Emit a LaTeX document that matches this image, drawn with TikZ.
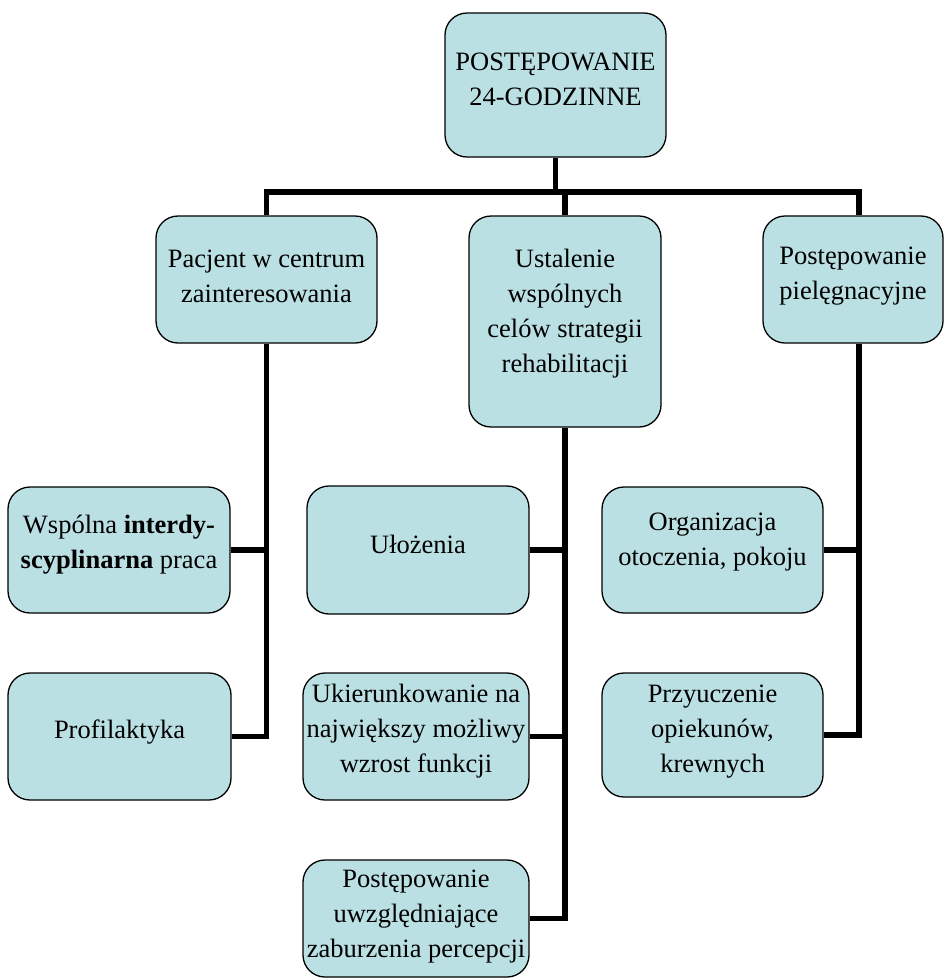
\documentclass[tikz,border=0pt]{standalone}
\usepackage{fontspec}
\setmainfont{Liberation Serif}
\usetikzlibrary{calc}
\definecolor{boxfill}{RGB}{187,224,227}
\begin{document}
\begin{tikzpicture}[x=1pt,y=-1pt,
 box/.style={draw=black, line width=1.3pt, fill=boxfill, rounded corners=22pt, inner sep=0pt},
 txt/.style={align=center, font=\fontsize{26.5}{35}\selectfont, inner sep=0pt},
 conn/.style={line width=5.5pt, line join=miter, line cap=butt}]
\useasboundingbox (0,0) rectangle (944,978);
\clip (0,0) rectangle (944,978);
% boxes
\node[box, minimum width=221pt, minimum height=144pt] (T) at (555.5,85) {};
\node[box, minimum width=221pt, minimum height=127pt] (L) at (266.5,279.5) {};
\node[box, minimum width=192pt, minimum height=211pt] (M) at (565,321.5) {};
\node[box, minimum width=180pt, minimum height=127pt] (R) at (853,279.5) {};
\node[box, minimum width=222pt, minimum height=126pt] (La) at (119,550) {};
\node[box, minimum width=223pt, minimum height=127pt] (Lb) at (119.5,736.5) {};
\node[box, minimum width=222pt, minimum height=128pt] (Ma) at (418,550) {};
\node[box, minimum width=226pt, minimum height=127pt] (Mb) at (416,736.5) {};
\node[box, minimum width=226pt, minimum height=117pt] (Mc) at (416,918.5) {};
\node[box, minimum width=221pt, minimum height=126pt] (Ra) at (712.5,550) {};
\node[box, minimum width=221pt, minimum height=124pt] (Rb) at (712.5,735) {};
% texts
\node[txt] (Tt) at (555.5,79) {POSTĘPOWANIE\\24-GODZINNE};
\node[txt] (Lt) at (266.5,276.5) {Pacjent w centrum\\zainteresowania};
\node[txt] (Mt) at (565,313.5) {Ustalenie\\wspólnych\\celów strategii\\rehabilitacji};
\node[txt] (Rt) at (853,276) {Postępowanie\\pielęgnacyjne};
\node[txt] (Lat) at (119,544.5) {Wspólna \textbf{interdy-}\\\textbf{scyplinarna} praca};
\node[txt] (Lbt) at (119.5,732) {Profilaktyka};
\node[txt] (Mat) at (418,544) {Ułożenia};
\node[txt] (Mbt) at (416,731) {Ukierunkowanie na\\największy możliwy\\wzrost funkcji};
\node[txt] (Mct) at (416,917) {Postępowanie\\uwzględniające\\zaburzenia percepcji};
\node[txt] (Rat) at (712.5,542) {Organizacja\\otoczenia, pokoju};
\node[txt] (Rbt) at (712.5,732) {Przyuczenie\\opiekunów,\\krewnych};
% connectors
\coordinate (hb) at (0,192);
\coordinate (rn) at ($(R.north)+(6,0)$);
\coordinate (rs) at ($(R.south)+(6,0)$);
\draw[conn] (T.south) -- (T.south |- hb);
\draw[conn] (L.north) -- (L.north |- hb) -- (rn |- hb) -- (rn);
\draw[conn] (M.north) -- (M.north |- hb);
\draw[conn] (L.south) |- (Lb.east);
\draw[conn] (La.east) -- (La.east -| L.south);
\draw[conn] (M.south) |- (Mc.east);
\draw[conn] (Ma.east) -- (Ma.east -| M.south);
\draw[conn] (Mb.east) -- (Mb.east -| M.south);
\draw[conn] (rs) |- (Rb.east);
\draw[conn] (Ra.east) -- (Ra.east -| rs);
\end{tikzpicture}
\end{document}
